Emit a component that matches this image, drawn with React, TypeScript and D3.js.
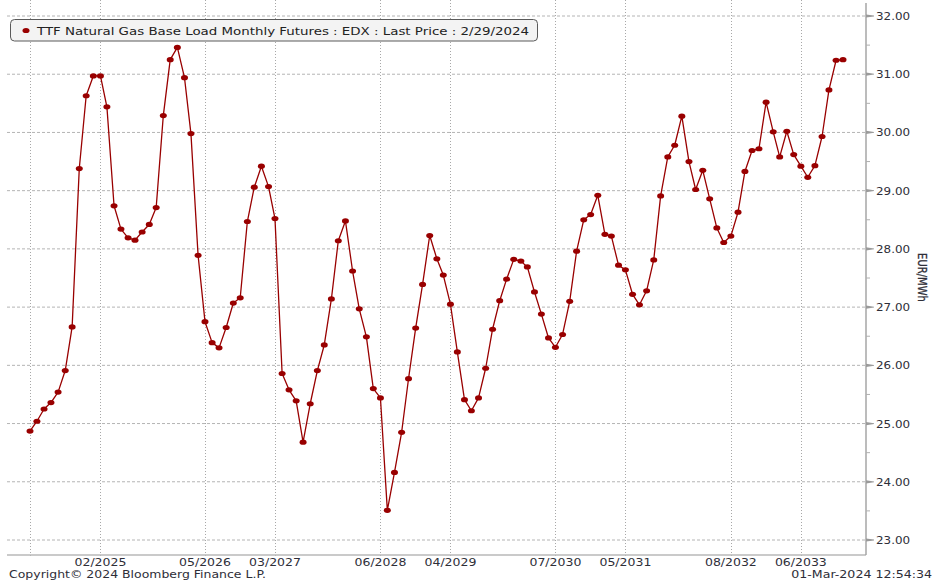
import React from "react";
import * as d3 from "d3";

const START_MONTH = "2024-04";
const prices = [
  24.87, 25.04, 25.25, 25.36, 25.54, 25.91, 26.66, 29.38, 30.63, 30.97,
  30.97, 30.44, 28.74, 28.34, 28.19, 28.15, 28.29, 28.42, 28.71, 30.29,
  31.25, 31.46, 30.94, 29.98, 27.89, 26.75, 26.39, 26.30, 26.65, 27.07,
  27.16, 28.47, 29.06, 29.42, 29.07, 28.52, 25.86, 25.58, 25.39, 24.68,
  25.34, 25.91, 26.35, 27.14, 28.14, 28.48, 27.62, 26.97, 26.49, 25.60,
  25.44, 23.51, 24.16, 24.85, 25.77, 26.64, 27.39, 28.23, 27.83, 27.55,
  27.05, 26.23, 25.41, 25.22, 25.44, 25.95, 26.62, 27.11, 27.48, 27.82,
  27.79, 27.69, 27.26, 26.88, 26.47, 26.31, 26.53, 27.10, 27.96, 28.50,
  28.59, 28.92, 28.25, 28.22, 27.72, 27.64, 27.22, 27.04, 27.28, 27.81,
  28.91, 29.58, 29.78, 30.28, 29.50, 29.02, 29.35, 28.86, 28.36, 28.11,
  28.22, 28.63, 29.33, 29.69, 29.72, 30.52, 30.01, 29.58, 30.02, 29.62,
  29.42, 29.23, 29.43, 29.93, 30.73, 31.24, 31.25,
];
const labeledMonths = ["2025-02", "2026-05", "2027-03", "2028-06", "2029-04", "2030-07", "2031-05", "2032-08", "2033-06"];
const gridMonths = ["2024-04", ...labeledMonths];
const yTicks = [23, 24, 25, 26, 27, 28, 29, 30, 31, 32];
const yMinorTicks = [23.5, 24.5, 25.5, 26.5, 27.5, 28.5, 29.5, 30.5, 31.5];
const legendText = "TTF Natural Gas Base Load Monthly Futures : EDX : Last Price : 2/29/2024";
const unitLabel = "EUR/MWh";
const copyrightText = "Copyright\u00A9 2024 Bloomberg Finance L.P.";
const timestampText = "01-Mar-2024 12:54:34";

const W = 935;
const H = 583;
const PL = 7, PR = 866, PT = 3, PB = 555;
const SX = 1.19;
const FONT = "'DejaVu Sans', Verdana, sans-serif";
const RED = "#990000";
const TXT = "#2e2e38";

const parseMonth = d3.timeParse("%Y-%m");
const fmtMonth = d3.timeFormat("%m/%Y");

export default function App() {
  const start = parseMonth(START_MONTH) as Date;
  const dates = prices.map((_, i) => d3.timeMonth.offset(start, i));
  const x = d3.scaleTime().domain([dates[0], dates[dates.length - 1]]).range([30, 843]);
  const y = d3.scaleLinear().domain([23, 32]).range([540, 16]);
  const pts = prices.map((v, i) => [x(dates[i]), y(v)] as [number, number]);
  const line = d3.line<[number, number]>()(pts) || "";

  const sText = (tx: number, ty: number, s: string, anchor: string, sx: number, props: any = {}) => (
    <text
      transform={`translate(${tx},${ty}) scale(${sx},1)`}
      textAnchor={anchor as any}
      fontFamily={FONT}
      {...props}
    >
      {s}
    </text>
  );

  return (
    <div style={{ position: "fixed", left: 0, top: 0, width: W, height: H, background: "#fff" }}>
      <svg width={W} height={H} style={{ display: "block" }}>
        <rect x={0} y={0} width={W} height={H} fill="#ffffff" />
        {/* horizontal grid */}
        {yTicks.map((t) => (
          <line key={"h" + t} x1={PL} x2={PR} y1={y(t)} y2={y(t)} stroke="#b4b4b4" strokeWidth={1} strokeDasharray="3,2" />
        ))}
        {/* vertical grid */}
        {gridMonths.map((m) => {
          const xv = Math.round(x(parseMonth(m) as Date)) + 0.5;
          return <line key={"v" + m} x1={xv} x2={xv} y1={PT - 3} y2={PB + 3} stroke="#a8a8a8" strokeWidth={1} strokeDasharray="1,2" />;
        })}
        {/* axes */}
        <line x1={PL} x2={PR} y1={PB} y2={PB} stroke="#b8b8b8" strokeWidth={1.6} />
        <line x1={PR} x2={PR} y1={PT} y2={PB} stroke="#a0a0a0" strokeWidth={1.4} />
        {yTicks.map((t) => (
          <g key={"yt" + t}>
            <path d={`M${PR},${y(t) - 1.6}L${PR + 8},${y(t) - 0.4}L${PR + 8},${y(t) + 0.4}L${PR},${y(t) + 1.6}Z`} fill="#9a9a9a" />
            {sText(PR + 10, y(t) + 4, t.toFixed(2), "start", SX, { fontSize: 10, fill: TXT })}
          </g>
        ))}
        {yMinorTicks.map((t) => (
          <line key={"ym" + t} x1={PR} x2={PR + 4} y1={y(t)} y2={y(t)} stroke="#b0b0b0" strokeWidth={1} />
        ))}
        {labeledMonths.map((m) => {
          const xv = x(parseMonth(m) as Date);
          return <g key={"xl" + m}>{sText(xv, 566, fmtMonth(parseMonth(m) as Date), "middle", SX, { fontSize: 10.5, fill: TXT })}</g>;
        })}
        <text
          transform={`translate(917.5,277.5) rotate(90) scale(1,1.19)`}
          textAnchor="middle"
          fontFamily={FONT}
          fontSize={10}
          fill={TXT}
          stroke={TXT}
          strokeWidth={0.25}
        >
          {unitLabel}
        </text>
        {/* series */}
        <path d={line} fill="none" stroke={RED} strokeWidth={1.3} strokeLinejoin="round" />
        {pts.map(([px, py], i) => (
          <ellipse key={"p" + i} cx={px} cy={py} rx={3.5} ry={2.6} fill={RED} />
        ))}
        {/* legend */}
        <rect x={10.5} y={19.5} width={527} height={21.5} rx={4} ry={4} fill="#f3f3f3" stroke="#5a5a5a" strokeWidth={1} />
        <ellipse cx={26} cy={30.5} rx={3.5} ry={2.6} fill={RED} />
        {sText(37, 35, legendText, "start", 1.275, { fontSize: 10.5, fill: "#222" })}
        {/* footer */}
        {sText(9, 578, copyrightText, "start", 1.248, { fontSize: 10, fill: TXT })}
        {sText(932, 578, timestampText, "end", 1.225, { fontSize: 10.3, fill: TXT })}
      </svg>
    </div>
  );
}
